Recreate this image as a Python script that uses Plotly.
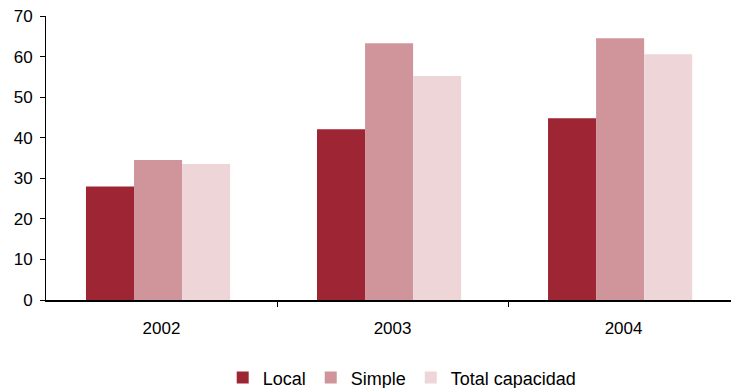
import plotly.graph_objects as go

# Categories and series values
years = ["2002", "2003", "2004"]
local = [28.0, 42.1, 44.8]
simple = [34.5, 63.3, 64.5]
total_capacidad = [33.5, 55.2, 60.6]

series = [
    ("Local", local, "#9E2634"),
    ("Simple", simple, "#CF959A"),
    ("Total capacidad", total_capacidad, "#EDD5D8"),
]

x_idx = list(range(len(years)))
bar_w = 0.208
start = -0.327

fig = go.Figure()
for i, (name, vals, color) in enumerate(series):
    fig.add_trace(go.Bar(
        x=x_idx, y=vals, name=name,
        marker=dict(color=color, line=dict(width=0)),
        width=bar_w, offset=start + i * bar_w,
    ))

font_family = "Liberation Sans, Arial, Helvetica, sans-serif"

fig.update_layout(
    width=731, height=388,
    margin=dict(l=46, r=0, t=16, b=88, autoexpand=False),
    paper_bgcolor="white", plot_bgcolor="white",
    barmode="overlay",
    font=dict(family=font_family, size=17, color="#000"),
    showlegend=True,
    legend=dict(
        orientation="h", x=0.52, xanchor="center", y=-0.274, yanchor="middle",
        font=dict(size=18), traceorder="normal", itemwidth=30,
        bgcolor="rgba(0,0,0,0)",
    ),
    xaxis=dict(
        range=[-0.5, 2.465], tickmode="array", tickvals=x_idx, ticktext=years,
        ticks="", showgrid=False, zeroline=False,
        showline=True, linecolor="#000", linewidth=1.5,
        minor=dict(tickmode="array", tickvals=[0.5, 1.5], ticks="outside",
                   ticklen=5, tickcolor="#000", tickwidth=1),
        ticklabelstandoff=12,
    ),
    yaxis=dict(
        range=[0, 70], dtick=10, tick0=0, ticks="outside", ticklen=5,
        tickcolor="#000", tickwidth=1, showgrid=False, zeroline=False,
        showline=True, linecolor="#000", linewidth=1, ticklabelstandoff=4,
    ),
)

fig.write_html("out.html")
